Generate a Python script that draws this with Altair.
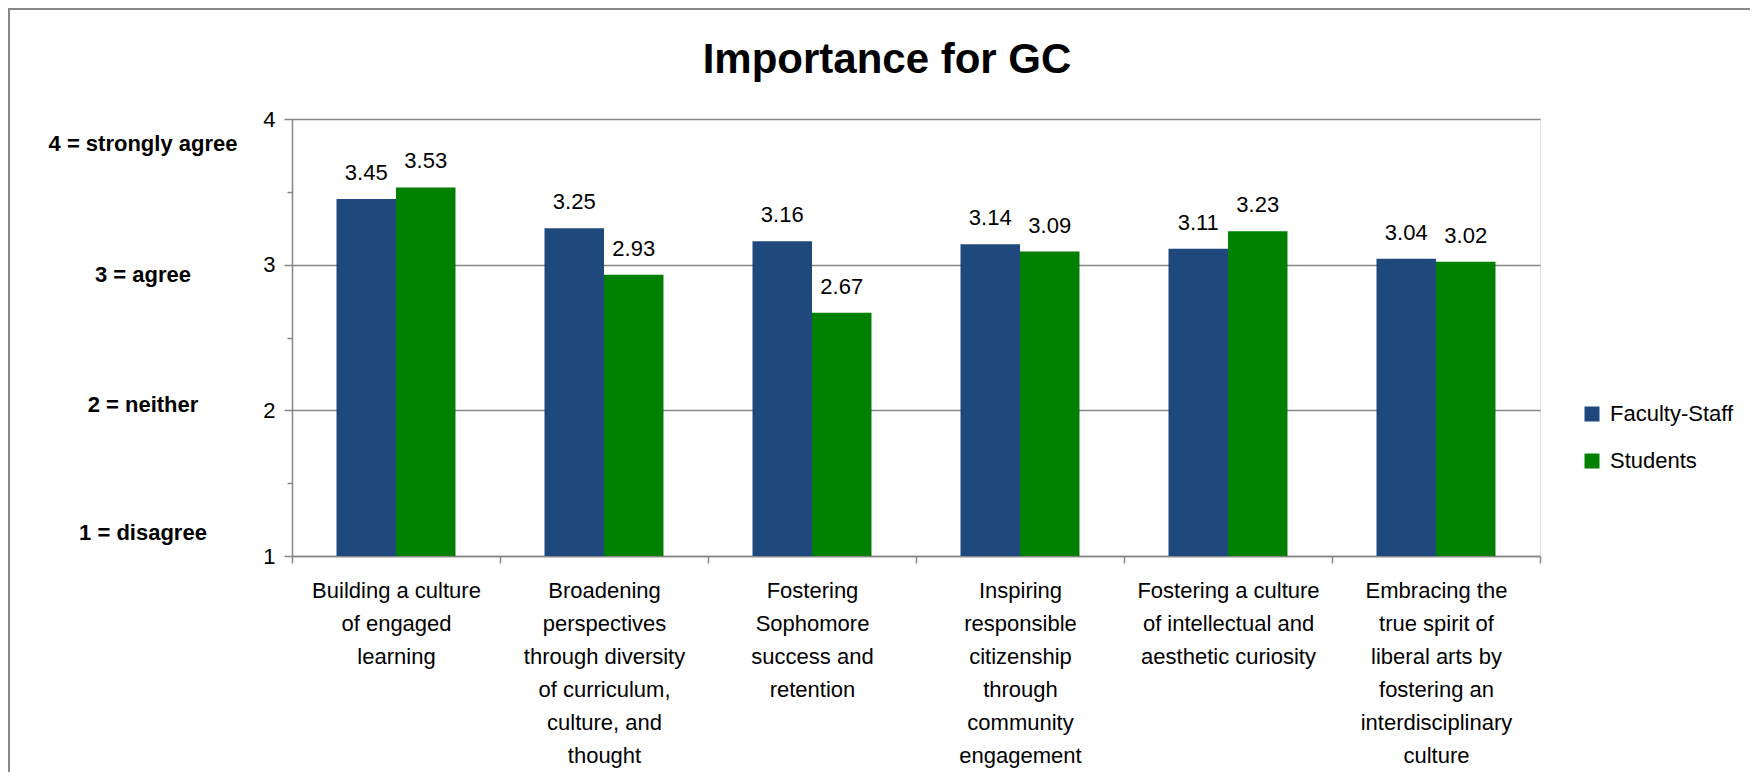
import altair as alt
import pandas as pd

# ---- data ----
categories = [
    "Building a culture|of engaged|learning",
    "Broadening|perspectives|through diversity|of curriculum,|culture, and|thought",
    "Fostering|Sophomore|success and|retention",
    "Inspiring|responsible|citizenship|through|community|engagement",
    "Fostering a culture|of intellectual and|aesthetic curiosity",
    "Embracing the|true spirit of|liberal arts by|fostering an|interdisciplinary|culture",
]
series = ["Faculty-Staff", "Students"]
faculty = [3.45, 3.25, 3.16, 3.14, 3.11, 3.04]
students = [3.53, 2.93, 2.67, 3.09, 3.23, 3.02]
scale_labels = ["4 = strongly agree", "3 = agree", "2 = neither", "1 = disagree"]
scale_label_pos = [3.83, 2.93, 2.04, 1.16]
colors = ["#1F497D", "#008000"]

rows = []
for c, f, s in zip(categories, faculty, students):
    rows.append({"cat": c, "series": series[0], "value": f})
    rows.append({"cat": c, "series": series[1], "value": s})
df = pd.DataFrame(rows)
ann = pd.DataFrame({"label": scale_labels, "pos": scale_label_pos})
frame_df = pd.DataFrame({"a": [0]})

FONT = "Liberation Sans"
GRAY = "#868686"

x = alt.X(
    "cat:N", sort=categories, title=None,
    scale=alt.Scale(paddingInner=0, paddingOuter=0),
    axis=alt.Axis(
        labelExpr="split(datum.label, '|')", labelAngle=0, labelFontSize=22,
        labelFont=FONT, labelColor="black", labelLineHeight=33,
        labelBaseline="top", labelPadding=17, tickBand="extent", tickSize=7,
        tickColor=GRAY, domainColor=GRAY, tickWidth=1.5, domainWidth=1.5,
        labelLimit=0, grid=False,
    ),
)
xo = alt.XOffset("series:N", sort=series,
                 scale=alt.Scale(paddingInner=0, paddingOuter=0.748))
y = alt.Y(
    "value:Q", title=None,
    scale=alt.Scale(domain=[1, 4], nice=False, zero=False),
    axis=alt.Axis(
        values=[1, 1.5, 2, 2.5, 3, 3.5, 4],
        labelExpr="datum.value % 1 === 0 ? format(datum.value, 'd') : ''",
        labelOverlap=False, labelFontSize=22, labelFont=FONT, labelColor="black",
        labelPadding=9,
        tickSize={"condition": {"test": "datum.value % 1 === 0", "value": 8}, "value": 5},
        gridOpacity={"condition": {"test": "datum.value % 1 === 0", "value": 1}, "value": 0},
        grid=True, gridColor=GRAY, gridWidth=1.5,
        tickColor=GRAY, tickWidth=1.5, domainColor=GRAY, domainWidth=1.5,
    ),
)

color = alt.Color(
    "series:N", sort=series,
    scale=alt.Scale(domain=series, range=colors),
    legend=alt.Legend(
        orient="none", legendX=1289, legendY=284, title=None,
        symbolType="square", symbolSize=225, symbolStrokeWidth=0,
        labelFontSize=22, labelFont=FONT, labelColor="black",
        labelOffset=7, rowPadding=25, padding=0,
    ),
)

bars = alt.Chart(df).mark_bar().encode(
    x=x, xOffset=xo, y=y, y2=alt.datum(1), color=color
)
labels = alt.Chart(df).mark_text(
    baseline="alphabetic", dy=-19, fontSize=22, font=FONT, color="black"
).encode(x=x, xOffset=xo, y=y, text=alt.Text("value:Q", format=".2f"))

annot = alt.Chart(ann).mark_text(
    baseline="middle", align="center", fontSize=22, font=FONT,
    fontWeight="bold", color="black"
).encode(x=alt.value(-149), y=alt.Y("pos:Q"), text="label:N")

frame = alt.Chart(frame_df).mark_rect(
    fillOpacity=0, stroke="#888888", strokeWidth=2
).encode(x=alt.value(-283), x2=alt.value(2000), y=alt.value(-110), y2=alt.value(1000))

chart = alt.layer(frame, bars, labels, annot).properties(
    width=1248, height=437,
    autosize=alt.AutoSizeParams(type="none"),
    padding={"left": 284, "top": 111, "right": 210, "bottom": 216},
    title=alt.TitleParams(
        "Importance for GC", fontSize=42, font=FONT, fontWeight="bold",
        anchor="middle", dx=-29, dy=107, offset=0, baseline="alphabetic", color="black",
    ),
).configure_view(stroke=None).configure(background="white")

chart.save("out.html", embed_options={"renderer": "svg", "actions": False})
